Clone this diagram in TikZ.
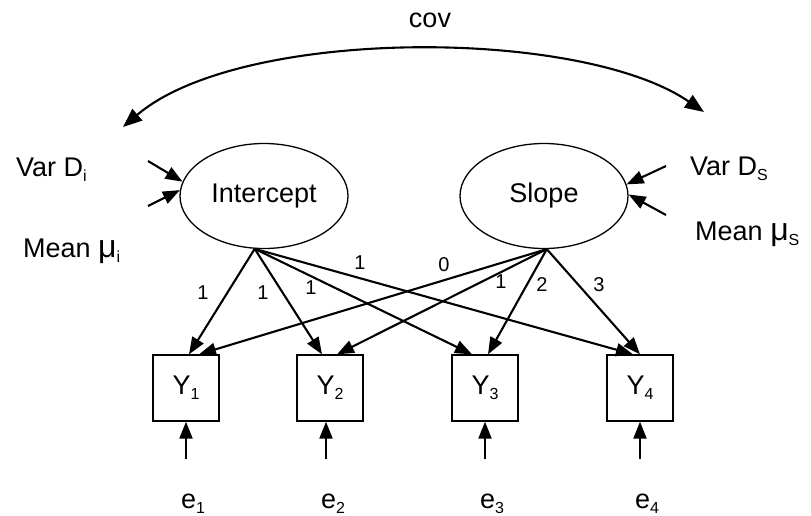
\documentclass[tikz,border=0pt]{standalone}
\usepackage{fontspec}
\setmainfont{Liberation Sans}
\usetikzlibrary{arrows.meta,shapes.geometric}
\newcommand{\lowsub}[1]{\raisebox{-5pt}{\fontsize{16}{16}\selectfont #1}}
\newcommand{\mufont}{\fontsize{32}{32}\selectfont}
\tikzset{
  latent/.style={draw, ellipse, line width=1.3pt, minimum width=168pt,
    minimum height=105pt, inner sep=0pt, font=\fontsize{27}{32}\selectfont},
  obs/.style={draw, rectangle, line width=1.3pt, minimum width=66pt,
    minimum height=66pt, inner sep=0pt, font=\fontsize{27}{32}\selectfont},
  arr/.style={-{Triangle[length=17pt,width=13pt]}, line width=2.1pt},
  biarr/.style={{Triangle[length=19pt,width=15pt]}-{Triangle[length=19pt,width=15pt]}, line width=2.1pt},
  txt/.style={font=\fontsize{27}{32}\selectfont, inner sep=0pt},
  num/.style={font=\fontsize{20}{24}\selectfont, inner sep=0pt}
}
\begin{document}
\begin{tikzpicture}
  [x=1pt,y=-1pt]
  \useasboundingbox (0,0) rectangle (811,515);
  % latent factors
  \node[latent] (ints) at (264,196) {Intercept};
  \node[latent] (slp) at (544,196) {Slope};
  % observed measures
  \node[obs] (y1) at (186,388) {Y\lowsub{1}};
  \node[obs] (y2) at (330,388) {Y\lowsub{2}};
  \node[obs] (y3) at (485,388) {Y\lowsub{3}};
  \node[obs] (y4) at (640,388) {Y\lowsub{4}};

  \node[txt] (cov) at (430,20) {cov};
  \node[txt, anchor=base west] (vari) at (16,176) {Var D\lowsub{i}};
  \node[txt, anchor=base west] (meani) at (23,257) {Mean {\mufont μ}\lowsub{i}};
  \node[txt, anchor=base west] (vars) at (690,175) {Var D\lowsub{S}};
  \node[txt, anchor=base west] (means) at (695,240) {Mean {\mufont μ}\lowsub{S}};

  % covariance
  \coordinate (covl) at (123,127);
  \coordinate (covr) at (704,112);
  \draw[biarr] (covl) .. controls (240,27) and (580,27) .. (covr);

  % variances and means
  \coordinate (vi1) at (148,161);
  \coordinate (vi2) at (148,206);
  \coordinate (vs1) at (666,166);
  \coordinate (vs2) at (666,215);
  \draw[arr] (vi1) -- (ints.170);
  \draw[arr] (vi2) -- (ints.176);
  \draw[arr] (vs1) -- (slp.8);
  \draw[arr] (vs2) -- (slp.1);

  % loadings
  \foreach \k/\dx in {1/3,2/-8,3/-13,4/-7}
    \draw[arr] (ints.-100) -- ([xshift=\dx pt]y\k.north);
  \foreach \k/\dx in {1/13,2/7,3/3,4/0}
    \draw[arr] (slp.-87) -- ([xshift=\dx pt]y\k.north);
  \foreach \nm/\x/\y/\v in {a1/203/293/1, a2/263/293/1, a3/311/288/1,
    a4/360/263/1, b1/444/265/0, b2/501/282/1, b3/542/285/2, b4/599/285/3}
    \node[num] (w\nm) at (\x,\y) {\v};

  % errors
  \foreach \k/\x in {1/186,2/326,3/485,4/640} {
    \coordinate (s\k) at (\x,459);
    \draw[arr] (s\k) -- (s\k |- y\k.south);
    \node[txt, anchor=base] (e\k) at (\x+7,508) {e\lowsub{\k}};
  }
\end{tikzpicture}
\end{document}
